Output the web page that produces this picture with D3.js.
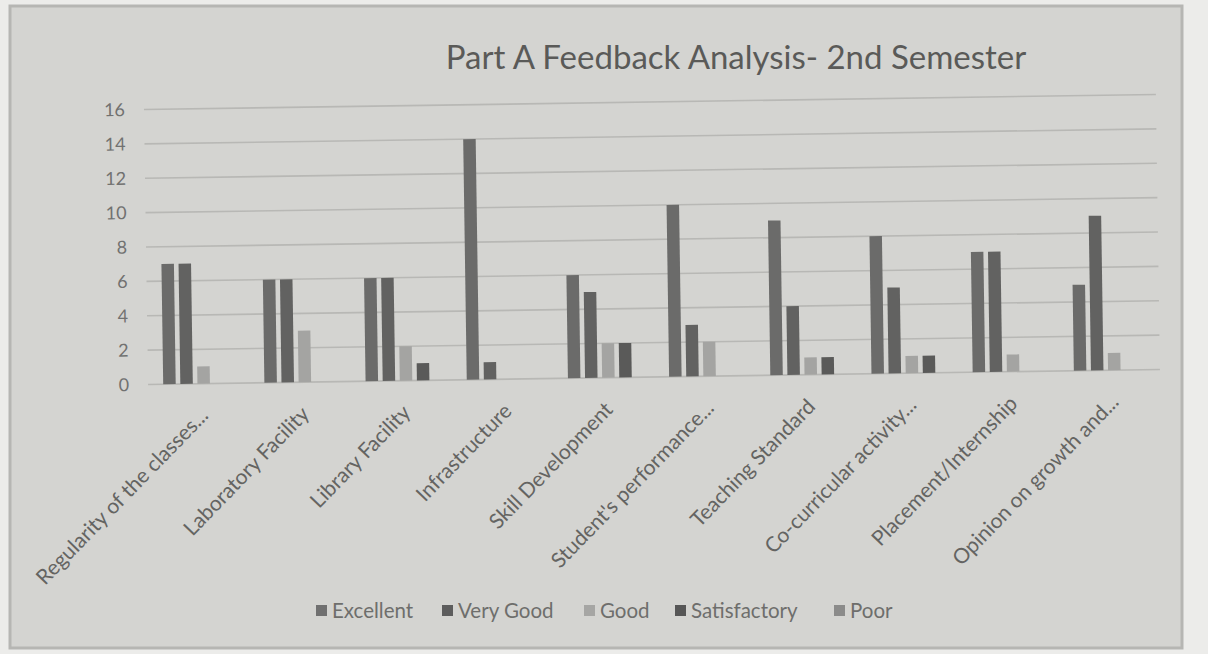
<!DOCTYPE html>
<html><head><meta charset="utf-8">
<script src="https://cdn.jsdelivr.net/npm/d3@7"></script>
<style>html,body{margin:0;padding:0;background:#ececea;}svg{display:block;}</style>
</head><body>
<svg id="chart" width="1208" height="654"></svg>
<script>
const categories = ["Regularity of the classes...","Laboratory Facility","Library Facility","Infrastructure","Skill Development","Student's performance...","Teaching Standard","Co-curricular activity...","Placement/Internship","Opinion on growth and..."];
const seriesNames = ["Excellent","Very Good","Good","Satisfactory","Poor"];
const excellent    = [7, 6, 6, 14, 6, 10, 9, 8, 7, 5];
const veryGood     = [7, 6, 6, 1, 5, 3, 4, 5, 7, 9];
const good         = [1, 3, 2, 0, 2, 2, 1, 1, 1, 1];
const satisfactory = [0, 0, 1, 0, 2, 0, 1, 1, 0, 0];
const poor         = [0, 0, 0, 0, 0, 0, 0, 0, 0, 0];
const yTicks = [0, 2, 4, 6, 8, 10, 12, 14, 16];
const title = "Part A Feedback Analysis- 2nd Semester";

const seriesValues = [excellent, veryGood, good, satisfactory, poor];
const colors = ["#6b6b6a", "#626261", "#a4a4a2", "#5a5a59", "#8d8d8b"];
const legendColors = ["#707070", "#5d5d5d", "#a6a6a4", "#565656", "#8b8b8a"];
const fontFam = "Lato, 'Open Sans', sans-serif";

const svg = d3.select("#chart");
// paper background and frame
svg.append("rect").attr("x",10).attr("y",6).attr("width",1172).attr("height",642)
  .attr("fill","#d4d4d1").attr("stroke","#b6b6b3").attr("stroke-width",3);

const plotLeft = 150, plotRight = 1168, plotTop = 102, plotBottom = 377;
const x0 = d3.scaleBand().domain(categories).range([plotLeft, plotRight]).paddingInner(0.2).paddingOuter(0.13);
const x1 = d3.scaleBand().domain(seriesNames).range([0, x0.bandwidth()]).paddingInner(0.27);
const y = d3.scaleLinear().domain([0, 16]).range([plotBottom, plotTop]);

const g = svg.append("g").attr("transform", "rotate(-0.85, 652, 377)");

// gridlines
g.append("g").selectAll("line").data(yTicks).join("line")
  .attr("x1", plotLeft - 2).attr("x2", plotRight - 8)
  .attr("y1", d => y(d)).attr("y2", d => y(d))
  .attr("stroke", "#b8b8b5").attr("stroke-width", 1.6);

// y axis labels
const yAxis = d3.axisLeft(y).tickValues(yTicks).tickSize(0).tickPadding(0);
const ya = g.append("g").attr("transform", `translate(${plotLeft-21},0)`).call(yAxis);
ya.select(".domain").remove();
ya.selectAll("text").attr("font-family",fontFam).attr("font-size",18).attr("fill","#717170");

// bars
const rows = categories.map((c, i) => ({cat: c, vals: seriesNames.map((s, j) => ({s, j, v: seriesValues[j][i]}))}));
g.append("g").selectAll("g").data(rows).join("g")
  .attr("transform", d => `translate(${x0(d.cat)},0)`)
  .selectAll("rect").data(d => d.vals.filter(v => v.v > 0)).join("rect")
  .attr("x", d => x1(d.s)).attr("width", x1.bandwidth())
  .attr("y", d => y(d.v)).attr("height", d => y(0) - y(d.v))
  .attr("fill", d => colors[d.j]);

// category labels
const xAxis = d3.axisBottom(x0).tickSize(0).tickPadding(0);
const xa = g.append("g").attr("transform", `translate(0,${plotBottom})`).call(xAxis);
xa.select(".domain").remove();
xa.selectAll("text")
  .attr("font-family",fontFam).attr("font-size",21).attr("fill","#646462")
  .attr("text-anchor","end").attr("dy","0.35em")
  .attr("transform","translate(0,28) rotate(-45)");

// title
svg.append("text").attr("x", 736).attr("y", 69).attr("text-anchor","middle")
  .attr("font-family",fontFam).attr("font-size",33).attr("fill","#5a5a58")
  .text(title);

// legend
const legendX = [316, 442, 584, 675, 834];
const lg = svg.append("g").selectAll("g").data(seriesNames).join("g")
  .attr("transform", (d, i) => `translate(${legendX[i]},611)`);
lg.append("rect").attr("x",0).attr("y",-6).attr("width",11).attr("height",11).attr("fill",(d,i)=>legendColors[i]);
lg.append("text").attr("x",16).attr("y",0).attr("dy","0.35em")
  .attr("font-family",fontFam).attr("font-size",20.5).attr("fill","#6e6e6c")
  .text(d => d);
</script>
</body></html>
